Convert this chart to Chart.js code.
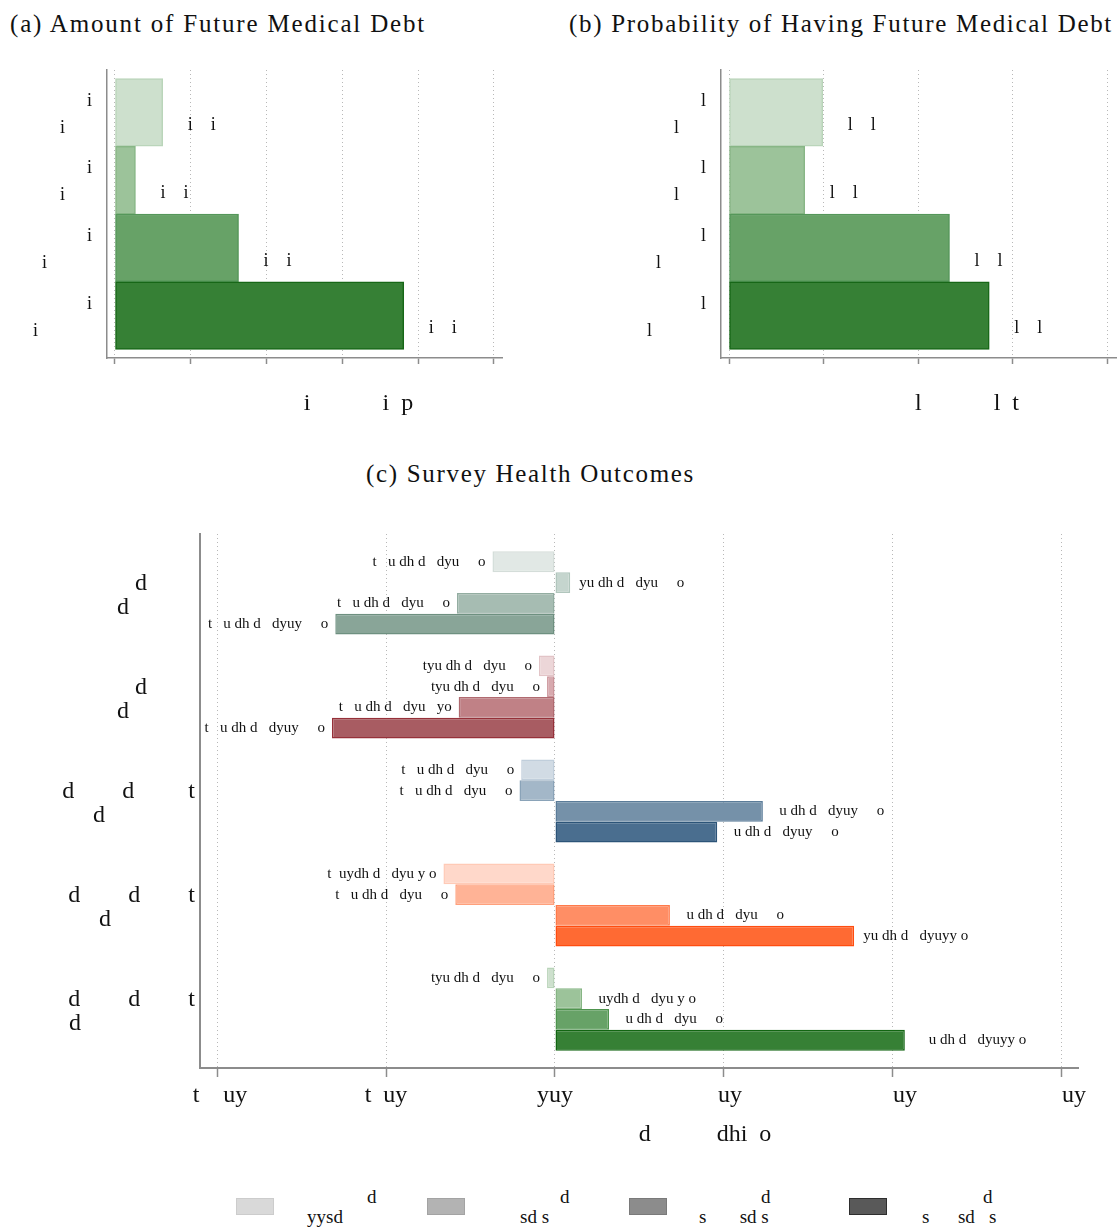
<!DOCTYPE html>
<html>
<head>
<meta charset="utf-8">
<script src="https://cdn.jsdelivr.net/npm/chart.js@4.4.0/dist/chart.umd.min.js"></script>
<style>
  body { margin: 0; background: #fff; }
  #page { position: relative; width: 1117px; height: 1230px; overflow: hidden; font-family: 'Liberation Serif', serif; color: #111; }
  .title { position: absolute; font-size: 25px; line-height: 30px; white-space: pre; }
  canvas { position: absolute; }
  .leg { position: absolute; font-size: 19px; line-height: 19px; white-space: pre; }
  .sw { position: absolute; width: 36px; height: 15px; border: 1px solid; }
</style>
</head>
<body>
<div id="page">
  <div class="title" style="left:10px;top:9px" data-w="416">(a) Amount of Future Medical Debt</div>
  <div class="title" style="left:569px;top:9px" data-w="544">(b) Probability of Having Future Medical Debt</div>
  <div class="title" style="left:366px;top:459px" data-w="329">(c) Survey Health Outcomes</div>
  <canvas id="chartA" width="540" height="400" style="left:0;top:40px"></canvas>
  <canvas id="chartB" width="557" height="400" style="left:560px;top:40px"></canvas>
  <canvas id="chartC" width="1117" height="640" style="left:0;top:520px"></canvas>
  <div id="legend"></div>
</div>
<script>
const sp = n => ' '.repeat(n);

// (a) amount of future medical debt
const amountLabels = [['i', 'i' + sp(6)], ['i', 'i' + sp(6)], ['i', 'i' + sp(10)], ['i', 'i' + sp(12)]];
const amountValues = [0.63, 0.27, 1.63, 3.81];
const amountText = ['i' + sp(4) + 'i', 'i' + sp(4) + 'i', 'i' + sp(4) + 'i', 'i' + sp(4) + 'i'];
const amountTicks = [0, 1, 2, 3, 4, 5];
const amountTitle = sp(18) + 'i' + sp(12) + 'i' + sp(2) + 'p';

// (b) probability of having future medical debt
const probLabels = [['l', 'l' + sp(6)], ['l', 'l' + sp(6)], ['l', 'l' + sp(10)], ['l', 'l' + sp(12)]];
const probValues = [0.99, 0.80, 2.33, 2.75];
const probText = ['l' + sp(4) + 'l', 'l' + sp(4) + 'l', 'l' + sp(4) + 'l', 'l' + sp(4) + 'l'];
const probTicks = [0, 1, 2, 3, 4];
const probTitle = sp(16) + 'l' + sp(12) + 'l' + sp(2) + 't';

// (c) survey health outcomes, one array per bar row, one value per group
const surveyGroups = [
  ['d' + sp(8), 'd' + sp(11)],
  ['d' + sp(8), 'd' + sp(11)],
  ['d' + sp(8) + 'd' + sp(9) + 't', 'd' + sp(15)],
  ['d' + sp(8) + 'd' + sp(8) + 't', 'd' + sp(14)],
  ['d' + sp(8) + 'd' + sp(8) + 't', 'd' + sp(19)]
];
const surveyRow1 = [-3.7, -0.95, -2.0, -6.6, -0.47];
const surveyRow2 = [0.9, -0.47, -2.1, -5.9, 1.6];
const surveyRow3 = [-5.8, -5.7, 12.3, 6.8, 3.2];
const surveyRow4 = [-13.0, -13.2, 9.6, 17.7, 20.7];
const surveyText1 = ['t   u dh d   dyu     o', 'tyu dh d   dyu     o', 't   u dh d   dyu     o', 't  uydh d   dyu y o', 'tyu dh d   dyu     o'];
const surveyText2 = ['yu dh d   dyu     o', 'tyu dh d   dyu     o', 't   u dh d   dyu     o', 't   u dh d   dyu     o', '  uydh d   dyu y o'];
const surveyText3 = ['t   u dh d   dyu     o', 't   u dh d   dyu   yo', '  u dh d   dyuy     o', '  u dh d   dyu     o', '  u dh d   dyu     o'];
const surveyText4 = ['t   u dh d   dyuy     o', 't   u dh d   dyuy     o', '  u dh d   dyuy     o', 'yu dh d   dyuyy o', '    u dh d   dyuyy o'];
const surveyTicks = [-20, -10, 0, 10, 20, 30];
const surveyTickLabels = [' t    uy', 't  uy', 'yuy', '  uy', '    uy', '    uy'];
const surveyTitle = sp(22) + 'd' + sp(11) + 'dhi' + sp(2) + 'o';

const legendTop = ['d', 'd', 'd', 'd'];
const legendBottom = ['yysd', 'sd s', 's' + sp(7) + 'sd s', 's' + sp(6) + 'sd' + sp(3) + 's'];

// colours
const greens = ['#cde0cd', '#9cc39a', '#67a267', '#368035'];
const greenBorders = ['#bad5ba', '#88b686', '#55975a', '#176717'];
const surveyFill = [
  ['#e1e8e5', '#ecd6d8', '#d1dbe4', '#ffd8ca', '#cde0cd'],
  ['#c5d5ce', '#d7a9ae', '#a3b7c8', '#ffb396', '#9cc39a'],
  ['#a6bcb2', '#c08186', '#7591a9', '#ff8e65', '#67a267'],
  ['#89a598', '#a85c62', '#4a6e8f', '#ff6a33', '#368035']
];
const surveyBorder = [
  ['#d4ddd9', '#e2c4c7', '#c0cedb', '#ffcab6', '#b9d4b9'],
  ['#b1c6bd', '#cb949a', '#8aa3b8', '#ffa07c', '#86b584'],
  ['#93ada1', '#b06a70', '#5b7c99', '#ff7a4a', '#4e944e'],
  ['#6e9080', '#963039', '#2c5478', '#ff4d10', '#126512']
];
const legendFill = ['#d9d9d9', '#b3b3b3', '#8c8c8c', '#595959'];
const legendBorder = ['#cccccc', '#a3a3a3', '#7a7a7a', '#2e2e2e'];

Chart.defaults.font.family = "'Liberation Serif', 'Times New Roman', serif";
Chart.defaults.color = '#111';

const axisGray = '#8c8c8c';
const gridGray = '#b8b8b8';

// fixed axis boxes, and no extra room for labels that overhang the ends
const fixWidth = w => s => { s.width = w; s.paddingTop = 0; s.paddingBottom = 0; };
const fixHeight = h => s => { s.height = h; s.paddingLeft = 0; s.paddingRight = 0; };

function barTextPlugin(texts, font, gapPos, gapNeg, dy) {
  return {
    id: 'barText',
    afterDatasetsDraw(chart) {
      const ctx = chart.ctx;
      ctx.save();
      ctx.font = font;
      ctx.fillStyle = '#111';
      ctx.textBaseline = 'middle';
      chart.data.datasets.forEach((ds, di) => {
        chart.getDatasetMeta(di).data.forEach((bar, i) => {
          const neg = ds.data[i].x < 0;
          ctx.textAlign = neg ? 'right' : 'left';
          ctx.fillText(texts[di][i], neg ? bar.x - gapNeg : bar.x + gapPos, bar.y + dy);
        });
      });
      ctx.restore();
    }
  };
}

function debtPanel(id, labels, values, texts, ticks, xMin, xMax, title, yWidth, padRight) {
  new Chart(document.getElementById(id), {
    type: 'bar',
    data: {
      datasets: [{
        data: values.map((v, i) => ({ x: v, y: i })),
        backgroundColor: greens,
        borderColor: greenBorders,
        borderWidth: 1.5,
        borderSkipped: false,
        barPercentage: 1,
        categoryPercentage: 1
      }]
    },
    options: {
      indexAxis: 'y',
      responsive: false,
      animation: false,
      layout: { padding: { top: 30, right: padRight, left: 0, bottom: 0 } },
      plugins: { legend: { display: false }, tooltip: { enabled: false } },
      scales: {
        x: {
          type: 'linear', min: xMin, max: xMax, offset: false,
          afterBuildTicks: s => { s.ticks = ticks.map(v => ({ value: v })); },
          ticks: { display: false },
          grid: { offset: false, color: gridGray, lineWidth: 1, tickColor: axisGray, tickLength: 6, tickWidth: 1.5 },
          border: { color: axisGray, width: 1.5, dash: [1, 3] },
          title: { display: true, text: title, font: { size: 24 }, padding: { top: 0, bottom: 22 } },
          afterFit: fixHeight(82)
        },
        y: {
          type: 'linear', reverse: true, min: -0.6255, max: 3.6255, offset: false, bounds: 'data', grace: 0,
          afterBuildTicks: s => { s.ticks = labels.map((l, i) => ({ value: i })); },
          ticks: { callback: v => labels[v], font: { size: 18, lineHeight: 1.5 }, padding: 15, labelOffset: 2, autoSkip: false },
          grid: { display: false, drawTicks: false, offset: false },
          border: { color: axisGray, width: 1.5 },
          afterFit: fixWidth(yWidth)
        }
      }
    },
    plugins: [barTextPlugin([texts], '18px "Liberation Serif"', 25, 25, 13)]
  });
}

debtPanel('chartA', amountLabels, amountValues, amountText, amountTicks, -0.1055, 5.106, amountTitle, 107, 38);
debtPanel('chartB', probLabels, probValues, probText, probTicks, -0.0846, 4.10, probTitle, 161, 0);

const surveyRows = [surveyRow1, surveyRow2, surveyRow3, surveyRow4];
new Chart(document.getElementById('chartC'), {
  type: 'bar',
  data: {
    datasets: surveyRows.map((row, k) => ({
      data: row.map((v, g) => ({ x: v, y: g })),
      backgroundColor: surveyFill[k],
      borderColor: surveyBorder[k],
      borderWidth: 1.5,
      borderSkipped: false,
      barPercentage: 1,
      categoryPercentage: 0.8
    }))
  },
  options: {
    indexAxis: 'y',
    responsive: false,
    animation: false,
    layout: { padding: { top: 14, right: 39, left: 0, bottom: 0 } },
    plugins: { legend: { display: false }, tooltip: { enabled: false } },
    scales: {
      x: {
        type: 'linear', min: -21.006, max: 30.947, offset: false,
        afterBuildTicks: s => { s.ticks = surveyTicks.map(v => ({ value: v })); },
        ticks: { callback: (v, i) => surveyTickLabels[i], font: { size: 24 }, padding: 4, maxRotation: 0, autoSkip: false },
        grid: { offset: false, color: gridGray, lineWidth: 1, tickColor: axisGray, tickLength: 9, tickWidth: 1.5 },
        border: { color: axisGray, width: 2, dash: [1, 3] },
        title: { display: true, text: surveyTitle, font: { size: 24 }, padding: { top: 0, bottom: 11 } },
        afterFit: fixHeight(92)
      },
      y: {
        type: 'linear', reverse: true, min: -0.567, max: 4.567, offset: false, bounds: 'data', grace: 0,
        afterBuildTicks: s => { s.ticks = surveyGroups.map((l, i) => ({ value: i })); },
        ticks: { callback: v => surveyGroups[v], font: { size: 24, lineHeight: 1.0 }, padding: 5, labelOffset: 3, autoSkip: false },
        grid: { display: false, drawTicks: false, offset: false },
        border: { color: axisGray, width: 2 },
        afterFit: fixWidth(200)
      }
    }
  },
  plugins: [barTextPlugin([surveyText1, surveyText2, surveyText3, surveyText4], '15px "Liberation Serif"', 9, 7, 0)]
});

// legend below panel (c)
const legendPos = [[236, 367, 307], [427, 560, 520], [629, 761, 699], [849, 983, 922]];
const legend = document.getElementById('legend');
legendPos.forEach(([boxX, topX, botX], i) => {
  const sw = document.createElement('div');
  sw.className = 'sw';
  sw.style.cssText = `left:${boxX}px;top:1198px;background:${legendFill[i]};border-color:${legendBorder[i]}`;
  legend.appendChild(sw);
  const t1 = document.createElement('div');
  t1.className = 'leg';
  t1.style.cssText = `left:${topX}px;top:1187px`;
  t1.textContent = legendTop[i];
  legend.appendChild(t1);
  const t2 = document.createElement('div');
  t2.className = 'leg';
  t2.style.cssText = `left:${botX}px;top:1207px`;
  t2.textContent = legendBottom[i];
  legend.appendChild(t2);
});

// stretch the panel titles to the width of the original serif face
document.querySelectorAll('.title').forEach(el => {
  const w = el.getBoundingClientRect().width;
  el.style.letterSpacing = ((+el.dataset.w - w) / el.textContent.length) + 'px';
});
</script>
</body>
</html>
